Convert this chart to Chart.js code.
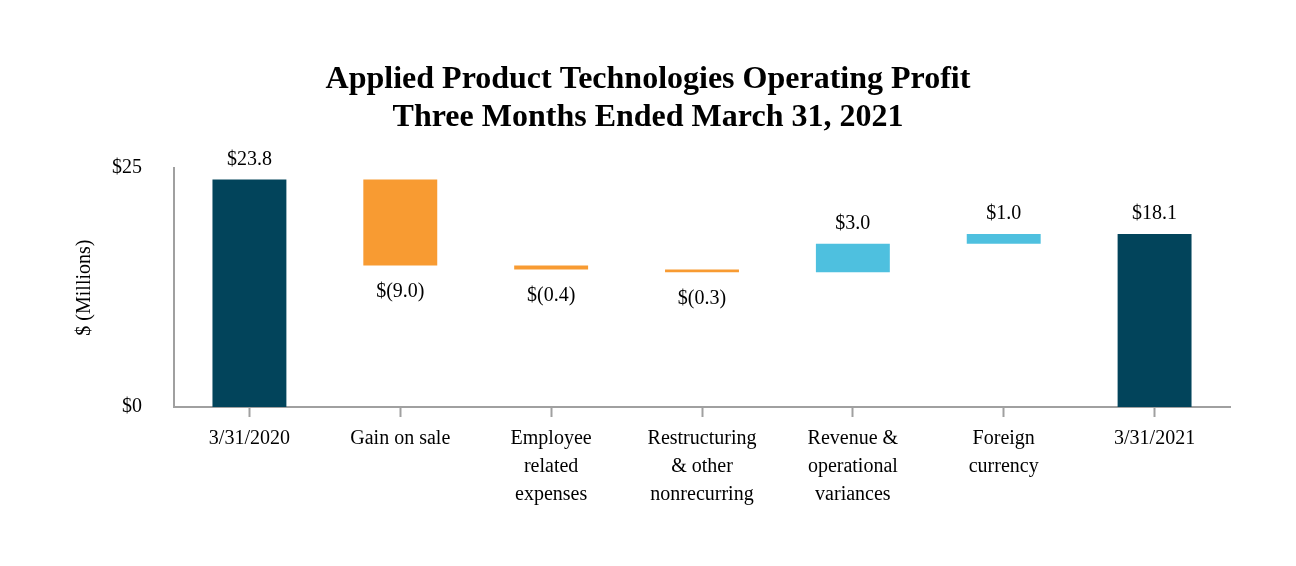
<!DOCTYPE html>
<html>
<head>
<meta charset="utf-8">
<script src="https://cdn.jsdelivr.net/npm/chart.js@4"></script>
<style>
  html, body { margin: 0; padding: 0; background: #ffffff; }
  #wrap { width: 1296px; height: 566px; position: relative; }
</style>
</head>
<body>
<div id="wrap"><canvas id="apChart"></canvas></div>
<script>
// categories and the change each step adds (first and last are totals)
const categories = [
    ['3/31/2020'],
    ['Gain on sale'],
    ['Employee', 'related', 'expenses'],
    ['Restructuring', '& other', 'nonrecurring'],
    ['Revenue &', 'operational', 'variances'],
    ['Foreign', 'currency'],
    ['3/31/2021']
];
const changes = [23.8, -9.0, -0.4, -0.3, 3.0, 1.0, 18.1];
const isTotal = [true, false, false, false, false, false, true];
const yTicks = [0, 25];

const colors = {
    total: '#02445b',
    down: '#f89b32',
    up: '#4ec0df',
    axis: '#a0a0a0',
    text: '#000000'
};
const serif = "'Liberation Serif', 'Times New Roman', serif";

// build floating bar ranges from the running total
let running = 0;
const ranges = changes.map((v, i) => {
    if (isTotal[i]) {
        running = v;
        return [0, v];
    }
    const start = running;
    running = +(running + v).toFixed(2);
    return [Math.min(start, running), Math.max(start, running)];
});
const barColors = changes.map((v, i) => isTotal[i] ? colors.total : (v < 0 ? colors.down : colors.up));

function fmtValue(v) {
    return v < 0 ? '$(' + Math.abs(v).toFixed(1) + ')' : '$' + v.toFixed(1);
}

// value labels: above bars for increases/totals, below for decreases
const valueLabels = {
    id: 'valueLabels',
    afterDatasetsDraw(chart) {
        const ctx = chart.ctx;
        const meta = chart.getDatasetMeta(0);
        ctx.save();
        ctx.font = '20px ' + serif;
        ctx.fillStyle = colors.text;
        ctx.textAlign = 'center';
        ctx.textBaseline = 'middle';
        meta.data.forEach((bar, i) => {
            const top = Math.min(bar.y, bar.base);
            const bottom = Math.max(bar.y, bar.base);
            const v = changes[i];
            if (v < 0) {
                ctx.fillText(fmtValue(v), bar.x, bottom + 26);
            } else {
                ctx.fillText(fmtValue(v), bar.x, top - 20);
            }
        });
        ctx.restore();
    }
};

const ctx = document.getElementById('apChart').getContext('2d');
new Chart(ctx, {
    type: 'bar',
    data: {
        labels: categories,
        datasets: [{
            data: ranges,
            backgroundColor: barColors,
            borderWidth: 0,
            barPercentage: 0.49,
            categoryPercentage: 1
        }]
    },
    options: {
        responsive: true,
        maintainAspectRatio: false,
        animation: false,
        layout: {
            padding: 0
        },
        plugins: {
            legend: { display: false },
            tooltip: { enabled: false },
            title: {
                display: true,
                text: ['Applied Product Technologies Operating Profit', 'Three Months Ended March 31, 2021'],
                color: colors.text,
                font: { family: serif, size: 32, weight: 'bold', lineHeight: 1.19 },
                padding: { top: 61, bottom: 31 }
            }
        },
        scales: {
            x: {
                grid: {
                    display: true,
                    drawOnChartArea: false,
                    drawTicks: true,
                    tickLength: 10,
                    tickWidth: 2,
                    offset: false,
                    color: colors.axis
                },
                border: { display: true, color: colors.axis, width: 2 },
                ticks: {
                    color: colors.text,
                    font: { family: serif, size: 20, lineHeight: 1.4 },
                    padding: 8,
                    maxRotation: 0,
                    autoSkip: false
                },
                afterFit(scale) { scale.height = 159; }
            },
            y: {
                min: 0,
                max: 25,
                afterBuildTicks(scale) {
                    scale.ticks = yTicks.map(v => ({ value: v }));
                },
                grid: { display: false, drawTicks: false },
                border: { display: true, color: colors.axis, width: 2 },
                ticks: {
                    color: colors.text,
                    font: { family: serif, size: 20 },
                    padding: 32,
                    callback: v => '$' + v
                },
                title: {
                    display: true,
                    text: '$ (Millions)',
                    color: colors.text,
                    font: { family: serif, size: 20 },
                    padding: { top: 73, bottom: 0 }
                },
                afterFit(scale) { scale.width = 174; }
            },
            // empty right-hand spacer so the title centres on the whole canvas
            spacer: {
                type: 'linear',
                position: 'right',
                display: true,
                grid: { display: false, drawTicks: false },
                border: { display: false },
                ticks: { display: false },
                afterFit(scale) { scale.width = 66; }
            }
        }
    },
    plugins: [valueLabels]
});
</script>
</body>
</html>
